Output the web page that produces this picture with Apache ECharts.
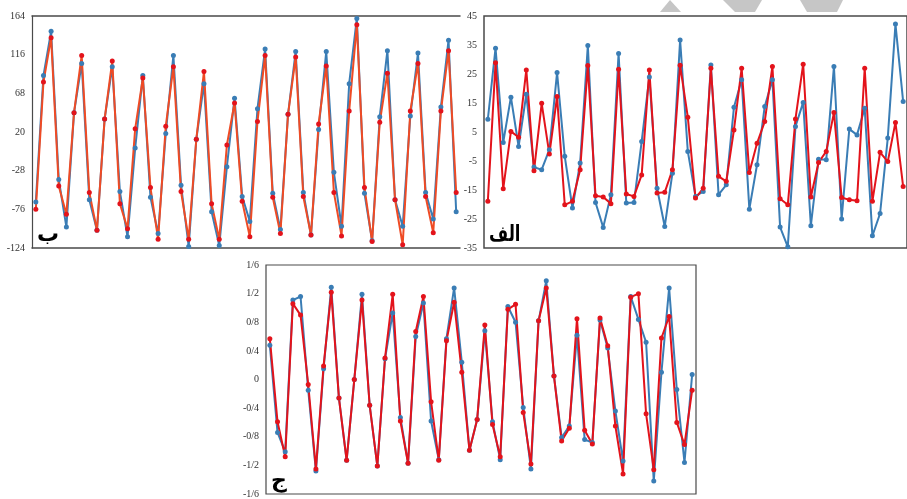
<!DOCTYPE html>
<html>
<head>
<meta charset="utf-8">
<script src="https://cdn.jsdelivr.net/npm/echarts@6/dist/echarts.min.js"></script>
<style>
  html, body { margin: 0; padding: 0; background: #fff; }
  #main { width: 907px; height: 499px; }
</style>
</head>
<body>
<div id="main"></div>
<script>
  // panel ب (top left)
  var bBlue = [-67, 90, 145, -39, -98, 44, 105, -64, -102, 36, 101, -54, -110, 0, 90, -61, -106, 18, 115, -46, -122, 11, 80, -79, -121, -23, 62, -60, -91, 49, 123, -56, -101, 42, 120, -55, -108, 23, 120, -30, -97, 80, 161, -56, -115, 39, 121, -64, -97, 40, 118, -55, -88, 51, 134, -79];
  var bRed = [-76, 82, 137, -47, -82, 44, 115, -55, -102, 36, 108, -69, -100, 24, 87, -49, -113, 27, 101, -54, -113, 11, 95, -69, -113, 4, 56, -66, -110, 33, 115, -61, -106, 42, 113, -60, -108, 30, 102, -55, -109, 46, 153, -49, -116, 32, 93, -64, -120, 46, 105, -60, -105, 46, 121, -55];
  var bTicks = [-124, 164, 48];

  // panel الف (top right)
  var aBlue = [9.4, 33.9, 1.4, 17, 0, 18, -7.1, -8, -1.1, 25.5, -3.4, -21.2, -5.7, 34.8, -19.3, -27.9, -16.6, 32.1, -19.5, -19.3, 1.7, 24, -14.4, -27.6, -9.2, 36.7, -1.7, -17.2, -15.5, 28.1, -16.6, -13.2, 13.5, 23, -21.6, -6.3, 13.8, 23, -27.8, -34.6, 6.9, 15.2, -27.3, -4.4, -4.6, 27.6, -25, 6, 4, 13.2, -30.8, -23.1, 2.9, 42.2, 15.5];
  var aRed = [-18.9, 28.9, -14.6, 5.2, 3.2, 26.4, -8.4, 14.9, -2.6, 17.2, -20.1, -18.9, -8, 27.9, -17, -17.4, -19.7, 26.6, -16.4, -17.2, -9.8, 26.4, -16, -15.8, -8, 28, 10.1, -17.8, -14.4, 27, -10.3, -12, 5.7, 27, -9, 1.1, 8.6, 27.6, -18, -20.1, 9.5, 28.4, -17.4, -5.5, -1.7, 11.7, -17.6, -18.4, -18.7, 27, -18.9, -2, -5.2, 8.3, -13.8];
  var aTicks = [-35, 45, 10];

  // panel ج (bottom)
  var cBlue = [0.48, -0.74, -1.01, 1.11, 1.16, -0.15, -1.28, 0.15, 1.29, -0.26, -1.13, 0, 1.19, -0.36, -1.21, 0.29, 0.93, -0.53, -1.17, 0.6, 1.07, -0.58, -1.12, 0.57, 1.28, 0.24, -0.99, -0.56, 0.68, -0.59, -1.12, 1.02, 0.8, -0.39, -1.25, 0.82, 1.38, 0.05, -0.81, -0.65, 0.62, -0.84, -0.88, 0.83, 0.44, -0.44, -1.14, 1.16, 0.84, 0.52, -1.42, 0.1, 1.28, -0.14, -1.16, 0.07];
  var cRed = [0.57, -0.59, -1.08, 1.06, 0.9, -0.07, -1.25, 0.19, 1.22, -0.26, -1.13, 0, 1.11, -0.36, -1.21, 0.3, 1.19, -0.58, -1.17, 0.67, 1.16, -0.31, -1.13, 0.54, 1.08, 0.1, -0.99, -0.56, 0.76, -0.63, -1.08, 0.98, 1.05, -0.46, -1.18, 0.82, 1.28, 0.05, -0.86, -0.68, 0.85, -0.71, -0.9, 0.86, 0.47, -0.65, -1.32, 1.15, 1.2, -0.48, -1.26, 0.58, 0.88, -0.6, -0.91, -0.15];
  var cTicks = [-1.6, 1.6, 0.4];

  function idx(arr) {
    return arr.map(function (v, i) { return String(i + 1); });
  }

  var blue = '#3A7DB5';
  var red = '#E3131B';
  var axisColor = '#4a4a4a';
  var labelFont = { fontFamily: 'Liberation Serif', fontSize: 10, color: '#333' };

  function xAx(grid, n, pos, showLine) {
    return {
      type: 'category', gridIndex: grid, data: idx(n), position: pos,
      boundaryGap: true,
      axisLine: { show: showLine, onZero: false, lineStyle: { color: axisColor, width: 1.5 } },
      axisTick: { show: false }, axisLabel: { show: false }, splitLine: { show: false }
    };
  }

  function yAx(grid, t, fmt, showLine) {
    return {
      type: 'value', gridIndex: grid, min: t[0], max: t[1], interval: t[2],
      axisLine: { show: showLine, onZero: false, lineStyle: { color: axisColor, width: 1.2 } },
      axisTick: { show: false }, splitLine: { show: false },
      axisLabel: Object.assign({ margin: 7, formatter: fmt }, labelFont)
    };
  }

  function line(name, x, y, data, lineColor, dotColor) {
    return {
      name: name, type: 'line', xAxisIndex: x, yAxisIndex: y, data: data,
      symbol: 'circle', symbolSize: 5, showSymbol: true,
      lineStyle: { color: lineColor, width: 2 },
      itemStyle: { color: dotColor }
    };
  }

  var slashFmt = function (v) {
    var s = String(+v.toFixed(1));
    return s.replace('.', '/');
  };

  var chart = echarts.init(document.getElementById('main'), null, { renderer: 'canvas' });

  var option = {
    animation: false,
    backgroundColor: '#fff',
    grid: [
      { left: 32, top: 16, width: 428, height: 232 },
      { left: 484, top: 16, width: 424, height: 232, show: true, borderColor: axisColor, borderWidth: 1.5 },
      { left: 266, top: 265, width: 430, height: 232, show: true, borderColor: axisColor, borderWidth: 1.2 }
    ],
    xAxis: [
      xAx(0, bBlue, 'bottom', true),
      xAx(1, aBlue, 'bottom', false),
      xAx(2, cBlue, 'bottom', false),
      xAx(0, bBlue, 'top', true)
    ],
    yAxis: [
      yAx(0, bTicks, null, true),
      yAx(1, aTicks, null, false),
      yAx(2, cTicks, slashFmt, false)
    ],
    series: [
      line('b-blue', 0, 0, bBlue, blue, blue),
      line('b-red', 0, 0, bRed, '#EF4B25', red),
      line('a-blue', 1, 1, aBlue, blue, blue),
      line('a-red', 1, 1, aRed, red, red),
      line('c-blue', 2, 2, cBlue, blue, blue),
      line('c-red', 2, 2, cRed, red, red)
    ],
    graphic: [
      { type: 'text', x: 37, y: 224, style: { text: 'ب', font: 'bold 22px "DejaVu Sans"', fill: '#000' } },
      { type: 'text', x: 489, y: 224, scaleX: 0.75, style: { text: 'الف', font: 'bold 22px "DejaVu Sans"', fill: '#000' } },
      { type: 'text', x: 271, y: 470, style: { text: 'ج', font: 'bold 22px "DejaVu Sans"', fill: '#000' } },
      // faint watermark shapes at the top edge
      { type: 'polygon', shape: { points: [[670, 0], [660, 12], [681, 12]] }, style: { fill: '#c6c6c6' } },
      { type: 'polygon', shape: { points: [[723, 0], [762, 0], [755, 12], [735, 12]] }, style: { fill: '#c6c6c6' } },
      { type: 'polygon', shape: { points: [[800, 0], [843, 0], [837, 12], [807, 12]] }, style: { fill: '#c6c6c6' } }
    ]
  };

  chart.setOption(option);
  window.addEventListener('resize', chart.resize);
</script>
</body>
</html>
